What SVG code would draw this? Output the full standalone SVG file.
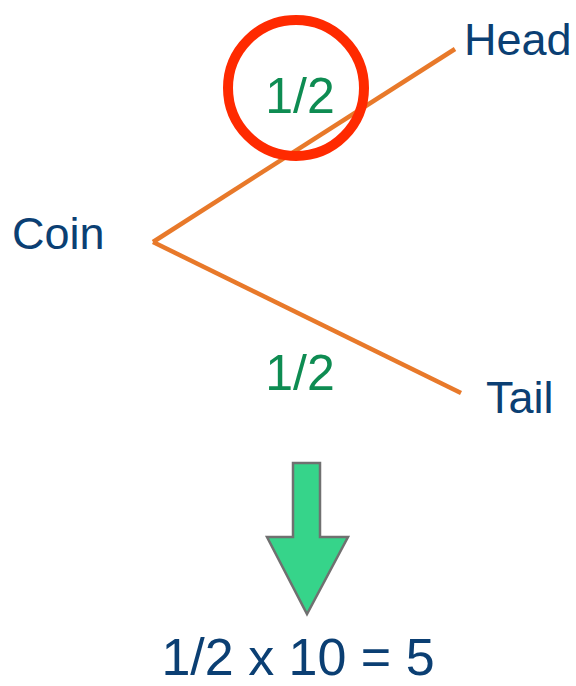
<svg xmlns="http://www.w3.org/2000/svg" width="576" height="686" viewBox="0 0 576 686">
  <style>
    .label { font-family: "Liberation Sans", Arial, sans-serif; fill: #0B3F73; font-size: 45px; }
    .prob { font-family: "Liberation Sans", Arial, sans-serif; fill: #0E8C52; font-size: 50px; text-anchor: middle; }
    .branch { stroke: #E8792A; stroke-width: 4.5; fill: none; }
    .result { font-family: "Liberation Sans", Arial, sans-serif; fill: #0B3F73; font-size: 52px; text-anchor: middle; }
  </style>
  <rect width="576" height="686" fill="#ffffff"/>

  <!-- tree branches -->
  <g id="connectors">
    <line class="branch" x1="153" y1="242" x2="455" y2="49"/>
    <line class="branch" x1="153" y1="242" x2="461" y2="393"/>
  </g>

  <g id="coin"><text class="label" x="12" y="249">Coin</text></g>
  <g id="head"><text class="label" x="464" y="55">Head</text></g>
  <g id="tail"><text class="label" x="486" y="413">Tail</text></g>

  <g id="prob-head">
    <text class="prob" x="300" y="113">1/2</text>
    <circle cx="296" cy="88" r="68" fill="none" stroke="#FF2A00" stroke-width="10"/>
  </g>
  <g id="prob-tail"><text class="prob" x="300" y="390">1/2</text></g>

  <!-- down arrow -->
  <g id="arrow">
    <path d="M293 463 H320 V537 H348 L307 614 L267 537 H293 Z" fill="#36D48A" stroke="#707070" stroke-width="2.5" stroke-linejoin="miter"/>
  </g>

  <g id="result">
    <text class="result" x="298" y="675">1/2 x 10 = 5</text>
  </g>
</svg>
